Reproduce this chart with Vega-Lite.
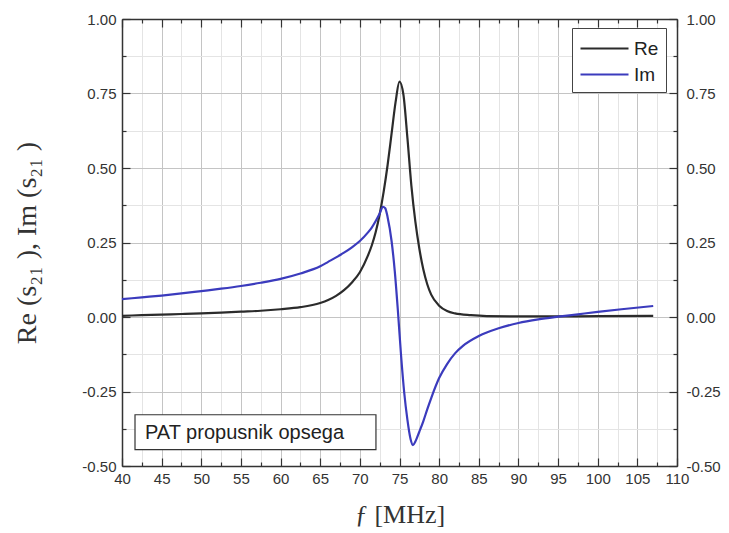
{
  "$schema": "https://vega.github.io/schema/vega-lite/v6.json",
  "width": 555,
  "height": 447,
  "autosize": {"type": "none"},
  "padding": {"left": 122, "top": 19, "right": 52, "bottom": 67},
  "background": "white",
  "config": {
    "view": {"stroke": null},
    "axis": {
      "labelFont": "Liberation Sans",
      "labelFontSize": 15,
      "labelColor": "#333333",
      "domainColor": "#333333",
      "domainWidth": 1.5,
      "tickColor": "#333333",
      "tickWidth": 1.2,
      "labelOverlap": false,
      "labelFlush": false
    }
  },
  "datasets": {
    "curves": [
      {"f": 40, "v": 0.004, "series": "Re"},
      {"f": 42.5, "v": 0.006, "series": "Re"},
      {"f": 45, "v": 0.008, "series": "Re"},
      {"f": 47.5, "v": 0.010, "series": "Re"},
      {"f": 50, "v": 0.012, "series": "Re"},
      {"f": 52.5, "v": 0.015, "series": "Re"},
      {"f": 55, "v": 0.018, "series": "Re"},
      {"f": 57.5, "v": 0.021, "series": "Re"},
      {"f": 60, "v": 0.026, "series": "Re"},
      {"f": 62.5, "v": 0.033, "series": "Re"},
      {"f": 65, "v": 0.047, "series": "Re"},
      {"f": 66, "v": 0.057, "series": "Re"},
      {"f": 67, "v": 0.071, "series": "Re"},
      {"f": 68, "v": 0.09, "series": "Re"},
      {"f": 69, "v": 0.116, "series": "Re"},
      {"f": 70, "v": 0.15, "series": "Re"},
      {"f": 71, "v": 0.205, "series": "Re"},
      {"f": 71.5, "v": 0.24, "series": "Re"},
      {"f": 72, "v": 0.285, "series": "Re"},
      {"f": 72.5, "v": 0.345, "series": "Re"},
      {"f": 73, "v": 0.42, "series": "Re"},
      {"f": 73.5, "v": 0.51, "series": "Re"},
      {"f": 74, "v": 0.615, "series": "Re"},
      {"f": 74.5, "v": 0.72, "series": "Re"},
      {"f": 75, "v": 0.79, "series": "Re"},
      {"f": 75.5, "v": 0.745, "series": "Re"},
      {"f": 76, "v": 0.6, "series": "Re"},
      {"f": 76.5, "v": 0.44, "series": "Re"},
      {"f": 77, "v": 0.32, "series": "Re"},
      {"f": 77.5, "v": 0.23, "series": "Re"},
      {"f": 78, "v": 0.16, "series": "Re"},
      {"f": 78.5, "v": 0.11, "series": "Re"},
      {"f": 79, "v": 0.075, "series": "Re"},
      {"f": 80, "v": 0.038, "series": "Re"},
      {"f": 81, "v": 0.02, "series": "Re"},
      {"f": 82, "v": 0.012, "series": "Re"},
      {"f": 84, "v": 0.006, "series": "Re"},
      {"f": 86, "v": 0.003, "series": "Re"},
      {"f": 90, "v": 0.002, "series": "Re"},
      {"f": 95, "v": 0.002, "series": "Re"},
      {"f": 100, "v": 0.003, "series": "Re"},
      {"f": 107, "v": 0.004, "series": "Re"},
      {"f": 40, "v": 0.060, "series": "Im"},
      {"f": 42.5, "v": 0.066, "series": "Im"},
      {"f": 45, "v": 0.072, "series": "Im"},
      {"f": 47.5, "v": 0.079, "series": "Im"},
      {"f": 50, "v": 0.087, "series": "Im"},
      {"f": 52.5, "v": 0.095, "series": "Im"},
      {"f": 55, "v": 0.104, "series": "Im"},
      {"f": 57.5, "v": 0.115, "series": "Im"},
      {"f": 60, "v": 0.128, "series": "Im"},
      {"f": 62.5, "v": 0.146, "series": "Im"},
      {"f": 65, "v": 0.17, "series": "Im"},
      {"f": 66, "v": 0.185, "series": "Im"},
      {"f": 67, "v": 0.2, "series": "Im"},
      {"f": 68, "v": 0.216, "series": "Im"},
      {"f": 69, "v": 0.234, "series": "Im"},
      {"f": 70, "v": 0.255, "series": "Im"},
      {"f": 71, "v": 0.283, "series": "Im"},
      {"f": 71.5, "v": 0.30, "series": "Im"},
      {"f": 72, "v": 0.322, "series": "Im"},
      {"f": 72.5, "v": 0.347, "series": "Im"},
      {"f": 72.9, "v": 0.37, "series": "Im"},
      {"f": 73.2, "v": 0.365, "series": "Im"},
      {"f": 73.5, "v": 0.335, "series": "Im"},
      {"f": 74, "v": 0.255, "series": "Im"},
      {"f": 74.4, "v": 0.155, "series": "Im"},
      {"f": 74.8, "v": 0.02, "series": "Im"},
      {"f": 75.2, "v": -0.13, "series": "Im"},
      {"f": 75.6, "v": -0.255, "series": "Im"},
      {"f": 76, "v": -0.345, "series": "Im"},
      {"f": 76.4, "v": -0.41, "series": "Im"},
      {"f": 76.7, "v": -0.43, "series": "Im"},
      {"f": 77, "v": -0.418, "series": "Im"},
      {"f": 77.5, "v": -0.385, "series": "Im"},
      {"f": 78, "v": -0.35, "series": "Im"},
      {"f": 78.5, "v": -0.31, "series": "Im"},
      {"f": 79, "v": -0.272, "series": "Im"},
      {"f": 80, "v": -0.205, "series": "Im"},
      {"f": 81, "v": -0.158, "series": "Im"},
      {"f": 82, "v": -0.122, "series": "Im"},
      {"f": 83, "v": -0.097, "series": "Im"},
      {"f": 85, "v": -0.064, "series": "Im"},
      {"f": 87.5, "v": -0.038, "series": "Im"},
      {"f": 90, "v": -0.02, "series": "Im"},
      {"f": 92.5, "v": -0.008, "series": "Im"},
      {"f": 95, "v": 0.001, "series": "Im"},
      {"f": 97.5, "v": 0.009, "series": "Im"},
      {"f": 100, "v": 0.017, "series": "Im"},
      {"f": 103, "v": 0.026, "series": "Im"},
      {"f": 107, "v": 0.037, "series": "Im"}
    ],
    "note": [
      {"label": "PAT propusnik opsega"}
    ]
  },
  "layer": [
    {
      "data": {"name": "curves"},
      "mark": {"type": "line", "interpolate": "monotone", "strokeWidth": 2.2},
      "encoding": {
        "x": {
          "field": "f", "type": "quantitative",
          "scale": {"domain": [40, 110], "nice": false, "zero": false},
          "axis": {
            "orient": "bottom",
            "values": [40, 42.5, 45, 47.5, 50, 52.5, 55, 57.5, 60, 62.5, 65, 67.5, 70, 72.5, 75, 77.5, 80, 82.5, 85, 87.5, 90, 92.5, 95, 97.5, 100, 102.5, 105, 107.5, 110],
            "labelExpr": "datum.value % 5 === 0 ? format(datum.value, 'd') : ''",
            "grid": true,
            "gridColor": {"condition": {"test": "datum.value % 5 === 0", "value": "#c4c4c4"}, "value": "#e4e4e4"},
            "gridWidth": 1,
            "tickSize": {"condition": {"test": "datum.value % 5 === 0", "value": -8}, "value": -4},
            "labelPadding": 13,
            "title": "ƒ [MHz]",
            "titleFont": "Liberation Serif",
            "titleFontSize": 26,
            "titleFontWeight": "normal",
            "titleColor": "#333333",
            "titlePadding": 11
          }
        },
        "y": {
          "field": "v", "type": "quantitative",
          "scale": {"domain": [-0.5, 1], "nice": false, "zero": false},
          "axis": {
            "orient": "left",
            "values": [-0.5, -0.375, -0.25, -0.125, 0, 0.125, 0.25, 0.375, 0.5, 0.625, 0.75, 0.875, 1],
            "labelExpr": "datum.value % 0.25 === 0 ? replace(format(datum.value, '.2f'), '\u2212', '-') : ''",
            "grid": true,
            "gridColor": {"condition": {"test": "datum.value % 0.25 === 0", "value": "#c4c4c4"}, "value": "#e4e4e4"},
            "gridWidth": 1,
            "tickSize": {"condition": {"test": "datum.value % 0.25 === 0", "value": -8}, "value": -4},
            "labelPadding": 14,
            "title": "Re (s₂₁ ), Im (s₂₁ )",
            "titleFont": "Liberation Serif",
            "titleFontSize": 28,
            "titleFontWeight": "normal",
            "titleColor": "#333333",
            "titlePadding": 40
          }
        },
        "color": {
          "field": "series", "type": "nominal",
          "scale": {"domain": ["Re", "Im"], "range": ["#2b2b2b", "#3b3bbd"]},
          "legend": {
            "title": null,
            "orient": "none",
            "legendX": 450,
            "legendY": 9,
            "symbolType": "M-1,0H3",
            "symbolSize": 576,
            "symbolStrokeWidth": 2.2,
            "labelFont": "Liberation Sans",
            "labelFontSize": 19,
            "labelColor": "#222222",
            "labelOffset": 28,
            "strokeColor": "#444444",
            "fillColor": "white",
            "padding": 7,
            "rowPadding": 2
          }
        }
      }
    },
    {
      "data": {"name": "note"},
      "mark": {"type": "rect", "fill": "white", "stroke": "#333333", "strokeWidth": 1.2},
      "encoding": {
        "x": {
          "datum": 41.64, "type": "quantitative",
          "axis": {
            "orient": "top",
            "values": [40, 42.5, 45, 47.5, 50, 52.5, 55, 57.5, 60, 62.5, 65, 67.5, 70, 72.5, 75, 77.5, 80, 82.5, 85, 87.5, 90, 92.5, 95, 97.5, 100, 102.5, 105, 107.5, 110],
            "labels": false,
            "grid": false,
            "tickSize": {"condition": {"test": "datum.value % 5 === 0", "value": -8}, "value": -4},
            "title": null
          }
        },
        "x2": {"datum": 72.03},
        "y": {
          "datum": -0.328, "type": "quantitative",
          "axis": {
            "orient": "right",
            "values": [-0.5, -0.375, -0.25, -0.125, 0, 0.125, 0.25, 0.375, 0.5, 0.625, 0.75, 0.875, 1],
            "labelExpr": "datum.value % 0.25 === 0 ? replace(format(datum.value, '.2f'), '\u2212', '-') : ''",
            "grid": false,
            "tickSize": {"condition": {"test": "datum.value % 0.25 === 0", "value": -8}, "value": -4},
            "labelPadding": 17,
            "title": null
          }
        },
        "y2": {"datum": -0.445}
      }
    },
    {
      "data": {"name": "note"},
      "mark": {"type": "text", "align": "left", "baseline": "middle", "font": "Liberation Sans", "fontSize": 20, "color": "#222222"},
      "encoding": {
        "x": {"datum": 42.9, "type": "quantitative", "axis": null},
        "y": {"datum": -0.388, "type": "quantitative", "axis": null},
        "text": {"field": "label"}
      }
    }
  ],
  "resolve": {"axis": {"x": "independent", "y": "independent"}}
}
